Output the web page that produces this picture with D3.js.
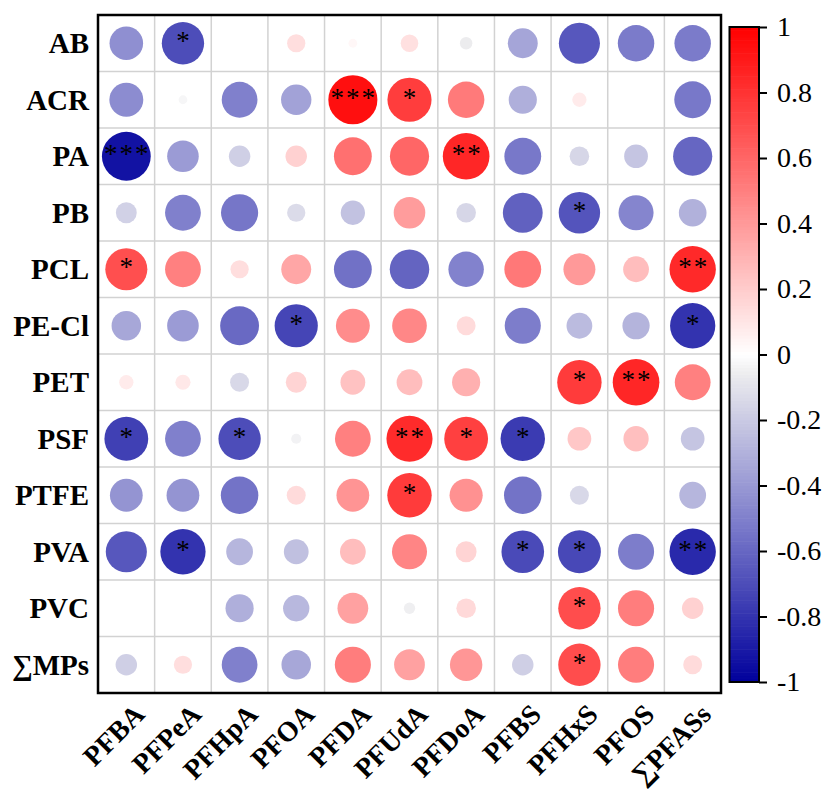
<!DOCTYPE html>
<html>
<head>
<meta charset="utf-8">
<script src="https://cdn.jsdelivr.net/npm/d3@7"></script>
<style>
  body { margin: 0; background: #fff; }
  svg text { font-family: "Liberation Serif", "Times New Roman", serif; }
</style>
</head>
<body>
<svg id="chart" width="827" height="791"></svg>
<script>
// microplastics (rows) vs PFAS (columns)
var rows = ["AB", "ACR", "PA", "PB", "PCL", "PE-Cl", "PET", "PSF", "PTFE", "PVA", "PVC", "\u2211MPs"];
var cols = ["PFBA", "PFPeA", "PFHpA", "PFOA", "PFDA", "PFUdA", "PFDoA", "PFBS", "PFHxS", "PFOS", "\u2211PFASs"];

// correlation coefficients, one line per row
var corr = [
  [-0.44, -0.70,  0.00,  0.13,  0.03,  0.12, -0.06, -0.35, -0.66, -0.52, -0.52],
  [-0.45, -0.03, -0.50, -0.36,  0.94,  0.76,  0.52, -0.31,  0.08,  0.00, -0.53],
  [-0.93, -0.39, -0.18,  0.18,  0.56,  0.60,  0.85, -0.53, -0.15, -0.22, -0.60],
  [-0.17, -0.50, -0.54, -0.13, -0.23,  0.39, -0.15, -0.62, -0.67, -0.48, -0.30],
  [ 0.69,  0.50,  0.13,  0.35, -0.56, -0.61, -0.49,  0.53,  0.40,  0.26,  0.84],
  [-0.34, -0.39, -0.59, -0.73,  0.45,  0.47,  0.14, -0.51, -0.26, -0.29, -0.80],
  [ 0.08,  0.09, -0.14,  0.17,  0.24,  0.26,  0.31,  0.00,  0.77,  0.85,  0.50],
  [-0.75, -0.50, -0.70, -0.04,  0.50,  0.83,  0.75, -0.77,  0.22,  0.25, -0.22],
  [-0.42, -0.42, -0.55,  0.14,  0.42,  0.77,  0.43, -0.55, -0.14,  0.00, -0.28],
  [-0.66, -0.80, -0.28, -0.24,  0.26,  0.48,  0.17, -0.71, -0.72, -0.51, -0.84],
  [ 0.00,  0.00, -0.31, -0.27,  0.37, -0.05,  0.15,  0.00,  0.70,  0.51,  0.18],
  [-0.18,  0.13, -0.50, -0.34,  0.51,  0.37,  0.41, -0.18,  0.70,  0.51,  0.14]
];

// significance marks
var sig = [
  ["", "*", "", "", "", "", "", "", "", "", ""],
  ["", "", "", "", "***", "*", "", "", "", "", ""],
  ["***", "", "", "", "", "", "**", "", "", "", ""],
  ["", "", "", "", "", "", "", "", "*", "", ""],
  ["*", "", "", "", "", "", "", "", "", "", "**"],
  ["", "", "", "*", "", "", "", "", "", "", "*"],
  ["", "", "", "", "", "", "", "", "*", "**", ""],
  ["*", "", "*", "", "", "**", "*", "*", "", "", ""],
  ["", "", "", "", "", "*", "", "", "", "", ""],
  ["", "*", "", "", "", "", "", "*", "*", "", "**"],
  ["", "", "", "", "", "", "", "", "*", "", ""],
  ["", "", "", "", "", "", "", "", "*", "", ""]
];

var barTicks = [1, 0.8, 0.6, 0.4, 0.2, 0, -0.2, -0.4, -0.6, -0.8, -1];

var svg = d3.select("#chart");
var mLeft = 98, mTop = 15, mRight = 721, mBottom = 693;

var x = d3.scaleBand().domain(cols).range([mLeft, mRight]);
var y = d3.scaleBand().domain(rows).range([mTop, mBottom]);
var rad = d3.scaleSqrt().domain([0, 1]).range([0, 25.3]);
var color = d3.scaleLinear()
  .domain([-1, -0.5, -0.06, 0, 1])
  .range(["#00009c", "#8080cc", "#ececee", "#ffffff", "#ff0000"]);

// cells
var cells = [];
rows.forEach(function(r, i) {
  cols.forEach(function(c, j) {
    cells.push({row: r, col: c, v: corr[i][j], s: sig[i][j]});
  });
});

// grid
var grid = svg.append("g").attr("stroke", "#d2d2d2").attr("stroke-width", 1.5);
x.domain().slice(1).forEach(function(c) {
  grid.append("line").attr("x1", x(c)).attr("x2", x(c)).attr("y1", mTop).attr("y2", mBottom);
});
y.domain().slice(1).forEach(function(r) {
  grid.append("line").attr("y1", y(r)).attr("y2", y(r)).attr("x1", mLeft).attr("x2", mRight);
});

svg.append("g").selectAll("circle").data(cells).enter().append("circle")
  .attr("cx", function(d) { return x(d.col) + x.bandwidth() / 2; })
  .attr("cy", function(d) { return y(d.row) + y.bandwidth() / 2; })
  .attr("r", function(d) { return rad(Math.abs(d.v)); })
  .attr("fill", function(d) { return color(d.v); });

svg.append("g").selectAll("text").data(cells.filter(function(d) { return d.s; })).enter().append("text")
  .attr("x", function(d) { return x(d.col) + x.bandwidth() / 2 + 1; })
  .attr("y", function(d) { return y(d.row) + y.bandwidth() / 2 + 7; })
  .attr("text-anchor", "middle")
  .attr("font-size", 27)
  .attr("letter-spacing", 2)
  .text(function(d) { return d.s; });

// frame
svg.append("rect").attr("x", mLeft).attr("y", mTop).attr("width", mRight - mLeft).attr("height", mBottom - mTop)
  .attr("fill", "none").attr("stroke", "#000").attr("stroke-width", 2.5);

// row labels
svg.append("g").selectAll("text").data(rows).enter().append("text")
  .attr("x", mLeft - 9)
  .attr("y", function(d) { return y(d) + y.bandwidth() / 2 + 10; })
  .attr("text-anchor", "end")
  .attr("font-size", 29)
  .attr("font-weight", "bold")
  .text(function(d) { return d; });

// column labels
svg.append("g").selectAll("text").data(cols).enter().append("text")
  .attr("transform", function(d) { return "translate(" + (x(d) + x.bandwidth() / 2 + 20) + "," + (mBottom + 23) + ") rotate(-45)"; })
  .attr("text-anchor", "end")
  .attr("font-size", 28)
  .attr("font-weight", "bold")
  .text(function(d) { return d; });

// colour bar
var barX = 729.5, barW = 29.5;
var cy = d3.scaleLinear().domain([-1, 1]).range([682, 27]);
var steps = d3.range(-1, 1, 0.01);
svg.append("g").selectAll("rect").data(steps).enter().append("rect")
  .attr("x", barX)
  .attr("y", function(d) { return cy(d + 0.01); })
  .attr("width", barW)
  .attr("height", function(d) { return cy(d) - cy(d + 0.01) + 0.6; })
  .attr("fill", function(d) { return color(d + 0.005); });
svg.append("rect").attr("x", barX).attr("y", cy(1)).attr("width", barW).attr("height", cy(-1) - cy(1))
  .attr("fill", "none").attr("stroke", "#000").attr("stroke-width", 2);

var axis = svg.append("g").attr("transform", "translate(" + (barX + barW) + ",0)")
  .call(d3.axisRight(cy).tickValues(barTicks).tickSize(8).tickPadding(10)
    .tickFormat(function(d) { return d === 0 ? "0" : String(d); }));
axis.select(".domain").remove();
axis.selectAll(".tick line").attr("stroke", "#000").attr("stroke-width", 2);
axis.selectAll(".tick text")
  .attr("font-size", 28)
  .attr("fill", "#000");
</script>
</body>
</html>
